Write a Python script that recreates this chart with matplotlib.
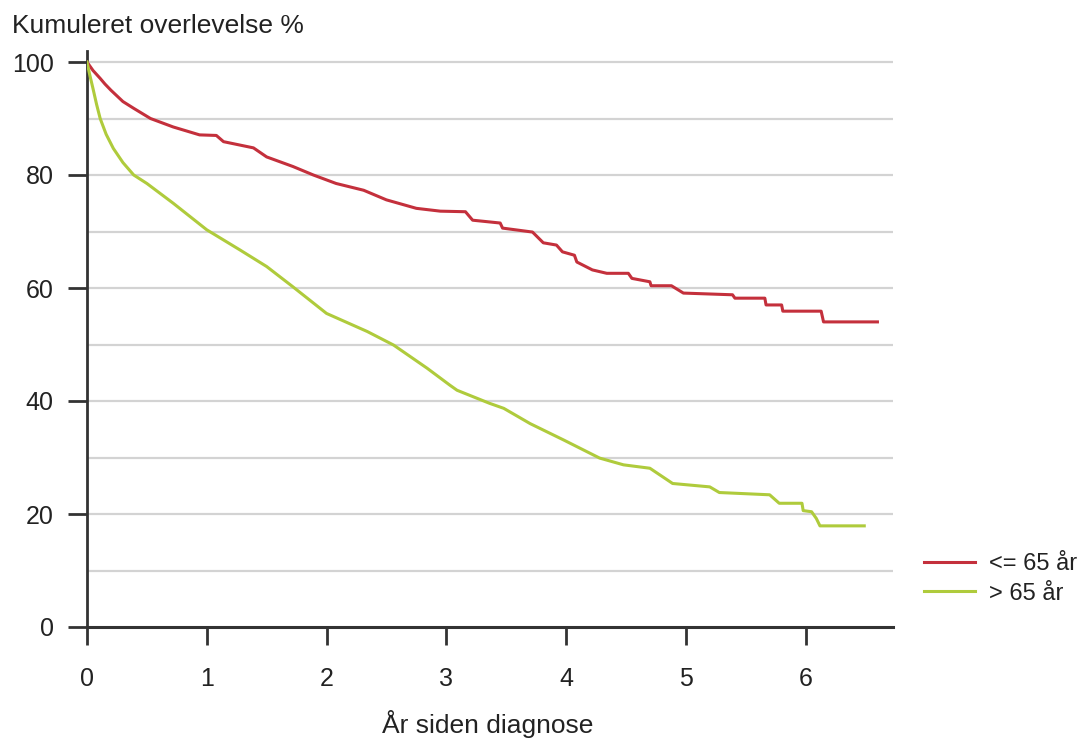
import matplotlib
matplotlib.use("Agg")
import matplotlib.pyplot as plt

plt.rcParams['font.family'] = ['Liberation Sans', 'DejaVu Sans']

# ---- data ----
t_young = [0, 0.05, 0.11, 0.15, 0.20, 0.30, 0.39, 0.53, 0.72, 0.94, 1.08, 1.14, 1.39, 1.50,
           1.72, 1.89, 2.08, 2.31, 2.50, 2.75, 2.95, 3.16, 3.22, 3.45, 3.47, 3.72,
           3.81, 3.92, 3.97, 4.07, 4.09, 4.22, 4.34, 4.52, 4.55, 4.70, 4.71, 4.88,
           4.98, 5.39, 5.41, 5.66, 5.67, 5.80, 5.81, 6.13, 6.15, 6.60]
s_young = [100, 98.5, 97.1, 96.1, 95.0, 93.0, 91.8, 90.0, 88.5, 87.1, 87.0, 85.9, 84.8, 83.2,
           81.5, 80.0, 78.5, 77.3, 75.6, 74.1, 73.6, 73.5, 72.0, 71.5, 70.6, 69.9,
           68.0, 67.6, 66.4, 65.8, 64.6, 63.2, 62.6, 62.6, 61.7, 61.1, 60.4, 60.4,
           59.1, 58.8, 58.2, 58.2, 57.0, 57.0, 55.9, 55.9, 54.0, 54.0]

t_old = [0, 0.02, 0.05, 0.08, 0.11, 0.16, 0.22, 0.30, 0.39, 0.50, 0.72, 1.00, 1.28, 1.50,
         1.72, 2.00, 2.34, 2.56, 2.84, 3.03, 3.09, 3.36, 3.48, 3.70, 3.98, 4.28, 4.48,
         4.70, 4.89, 5.20, 5.28, 5.70, 5.78, 5.97, 5.98, 6.05, 6.09, 6.12, 6.49]
s_old = [100, 98.0, 95.3, 92.5, 90.0, 87.2, 84.7, 82.2, 80.0, 78.5, 75.0, 70.3, 66.7, 63.8,
         60.2, 55.5, 52.3, 49.9, 45.8, 42.8, 41.9, 39.6, 38.7, 36.0, 33.1, 29.9, 28.7,
         28.1, 25.4, 24.8, 23.8, 23.4, 21.9, 21.9, 20.6, 20.4, 19.2, 17.9, 17.9]

labels = ['<= 65 år', '> 65 år']
colors = ['#C4303C', '#AFCB3C']
x_ticks = [0, 1, 2, 3, 4, 5, 6]
y_ticks = [0, 20, 40, 60, 80, 100]
y_grid = [10, 20, 30, 40, 50, 60, 70, 80, 90, 100]

fig = plt.figure(figsize=(10.92, 7.40), dpi=100)
ax = fig.add_axes([87/1092, 1 - 627/740, (893-87)/1092, (627-50.7)/740])

ax.set_xlim(0, 6.73)
ax.set_ylim(0, 102)

for g in y_grid:
    ax.axhline(g, color='#D3D3D3', lw=1.6, zorder=0)

ax.plot(t_young, s_young, color=colors[0], lw=2.2, label=labels[0], zorder=3)
ax.plot(t_old, s_old, color=colors[1], lw=2.2, label=labels[1], zorder=3)

for side in ['top', 'right']:
    ax.spines[side].set_visible(False)
ax.spines['left'].set_linewidth(2.0)
ax.spines['bottom'].set_linewidth(2.2)
ax.spines['left'].set_color('#333333')
ax.spines['bottom'].set_color('#333333')

ax.set_xticks(x_ticks)
ax.set_yticks(y_ticks)
ax.tick_params(axis='x', direction='out', length=13, width=2.0, color='#333333',
               pad=16, labelsize=18, labelcolor='#222222')
ax.tick_params(axis='y', direction='out', length=14, width=2.0, color='#333333',
               pad=10, labelsize=18, labelcolor='#222222')

fig.text(12/1092, 1 - 33/740, 'Kumuleret overlevelse %', fontsize=19,
         ha='left', va='baseline', color='#222222')
fig.text(488/1092, 1 - 733/740, 'År siden diagnose', fontsize=19,
         ha='center', va='baseline', color='#222222')

leg = ax.legend(loc='center left', bbox_to_anchor=(924/1092, 1 - 579/740),
                bbox_transform=fig.transFigure, frameon=False, fontsize=17,
                handlelength=2.15, handletextpad=0.6, labelspacing=0.3,
                borderpad=0, borderaxespad=0)
for txt in leg.get_texts():
    txt.set_color('#222222')

fig.savefig('out.png', dpi=100)
